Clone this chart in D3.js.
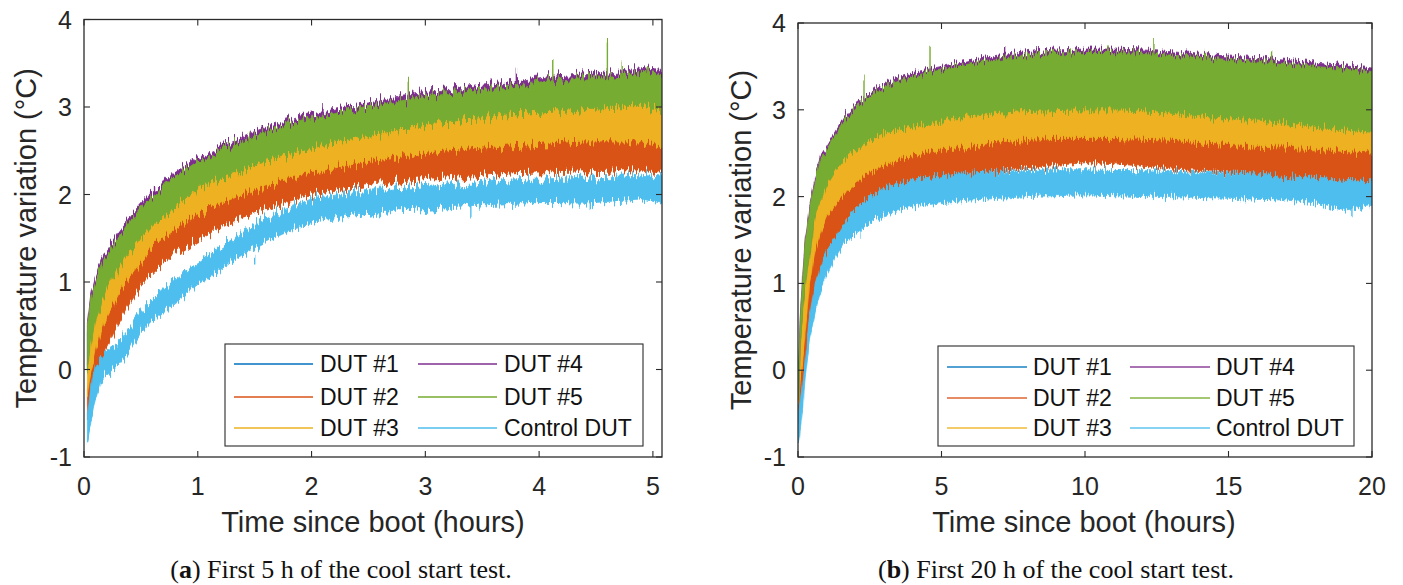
<!DOCTYPE html>
<html><head><meta charset="utf-8">
<script src="https://cdn.jsdelivr.net/npm/d3@7"></script>
<style>
html,body{margin:0;padding:0;background:#fff;}
svg{display:block;}
</style></head>
<body>
<svg id="chart" width="1403" height="585"></svg>
<script>
// ---------------- DATA ----------------
const seriesNames = ["DUT #1","DUT #2","DUT #3","DUT #4","DUT #5","Control DUT"];
const seriesColors = ["#0072BD","#D95319","#EDB120","#7E2F8E","#77AC30","#4DBEEE"];
const yTicks = [-1,0,1,2,3,4];
const xTicksA = [0,1,2,3,4,5];
const xTicksB = [0,5,10,15,20];

// Panel (a): time (h) and lower / upper envelope of each noisy trace (°C)
const timeA = [0.03,0.06,0.1,0.15,0.2,0.3,0.4,0.5,0.6,0.7,0.8,1.0,1.2,1.4,1.6,1.8,2.0,2.3,2.6,2.9,3.2,3.5,3.8,4.1,4.4,4.7,4.9,5.08];
const a_dut1_lo = [-0.02,0.28,0.53,0.73,0.9,1.13,1.33,1.5,1.63,1.75,1.86,2.03,2.16,2.26,2.36,2.44,2.51,2.6,2.68,2.75,2.81,2.86,2.9,2.93,2.96,2.98,3.0,2.96];
const a_dut1_hi = [0.42,0.72,0.92,1.12,1.24,1.42,1.6,1.77,1.89,2.0,2.12,2.3,2.42,2.54,2.64,2.72,2.79,2.87,2.94,3.02,3.07,3.12,3.17,3.22,3.25,3.28,3.32,3.3];
const a_dut2_lo = [-0.62,-0.45,-0.15,0.08,0.25,0.52,0.75,0.95,1.1,1.22,1.32,1.49,1.62,1.73,1.83,1.92,2.0,2.07,2.12,2.16,2.19,2.22,2.25,2.26,2.27,2.28,2.28,2.24];
const a_dut2_hi = [-0.2,0.05,0.28,0.5,0.68,0.93,1.13,1.3,1.46,1.58,1.68,1.86,1.98,2.08,2.18,2.26,2.33,2.41,2.48,2.54,2.58,2.61,2.64,2.66,2.68,2.68,2.68,2.63];
const a_dut3_lo = [-0.3,-0.05,0.2,0.42,0.6,0.85,1.05,1.22,1.38,1.5,1.6,1.78,1.9,2.0,2.1,2.18,2.25,2.33,2.4,2.46,2.5,2.53,2.56,2.58,2.6,2.6,2.6,2.55];
const a_dut3_hi = [0.1,0.4,0.62,0.83,1.0,1.23,1.43,1.6,1.73,1.85,1.96,2.13,2.26,2.36,2.46,2.54,2.61,2.7,2.78,2.85,2.91,2.96,3.0,3.03,3.06,3.08,3.1,3.06];
const a_dut4_lo = [0.05,0.35,0.6,0.8,0.97,1.2,1.4,1.57,1.7,1.82,1.93,2.1,2.22,2.32,2.42,2.5,2.57,2.66,2.74,2.81,2.87,2.92,2.96,2.99,3.02,3.04,3.06,3.02];
const a_dut4_hi = [0.55,0.86,1.06,1.26,1.38,1.56,1.74,1.9,2.02,2.13,2.25,2.43,2.55,2.67,2.77,2.85,2.92,3.0,3.07,3.15,3.2,3.25,3.3,3.35,3.38,3.41,3.45,3.43];
const a_dut5_lo = [0.0,0.3,0.55,0.75,0.92,1.15,1.35,1.52,1.65,1.77,1.88,2.05,2.18,2.28,2.38,2.46,2.53,2.62,2.7,2.77,2.83,2.88,2.92,2.95,2.98,3.0,3.02,2.98];
const a_dut5_hi = [0.5,0.8,1.0,1.2,1.32,1.5,1.68,1.85,1.97,2.08,2.2,2.38,2.5,2.62,2.72,2.8,2.87,2.95,3.02,3.1,3.15,3.2,3.25,3.3,3.33,3.36,3.4,3.38];
const a_ctrl_lo = [-0.82,-0.62,-0.35,-0.12,-0.04,0.05,0.22,0.42,0.55,0.66,0.76,0.96,1.14,1.32,1.46,1.58,1.68,1.74,1.79,1.83,1.86,1.88,1.9,1.91,1.9,1.93,1.95,1.9];
const a_ctrl_hi = [-0.55,-0.2,0.02,0.12,0.2,0.3,0.48,0.66,0.8,0.92,1.03,1.22,1.4,1.57,1.72,1.85,1.95,2.01,2.05,2.08,2.11,2.14,2.17,2.18,2.2,2.21,2.22,2.2];
// isolated spikes on panel (a): [series index, time, from, to]
const a_spikes = [[4,4.6,3.3,3.75],[4,4.12,3.25,3.55],[4,4.73,3.3,3.52],[4,2.85,3.05,3.3],[3,3.8,3.2,3.45],[4,4.95,3.35,3.47],
                  [3,0.62,1.9,2.12],[4,1.45,2.55,2.72],[3,2.1,2.85,3.0],[5,1.5,1.3,1.2],[5,3.4,1.9,1.75],[5,4.45,1.92,1.82]];

// Panel (b)
const timeB = [0.02,0.08,0.15,0.25,0.4,0.6,0.8,1.0,1.3,1.6,2.0,2.5,3.0,3.5,4,5,6,7,8,9,10,11,12,13,14,15,16,17,18,19,20];
const b_dut1_lo = [-0.39,0.26,0.56,0.96,1.26,1.76,1.92,2.09,2.26,2.39,2.5,2.6,2.69,2.73,2.76,2.83,2.88,2.92,2.94,2.95,2.96,2.96,2.95,2.92,2.89,2.86,2.83,2.8,2.76,2.73,2.7];
const b_dut1_hi = [-0.06,0.49,0.94,1.39,1.79,2.14,2.37,2.47,2.64,2.81,2.97,3.09,3.2,3.27,3.33,3.4,3.47,3.52,3.56,3.59,3.6,3.6,3.59,3.57,3.54,3.52,3.5,3.47,3.44,3.41,3.37];
const b_dut2_lo = [-0.6,-0.4,-0.25,0.05,0.62,0.98,1.2,1.36,1.52,1.68,1.86,2.0,2.1,2.15,2.2,2.24,2.27,2.3,2.33,2.36,2.39,2.38,2.35,2.32,2.3,2.28,2.26,2.23,2.21,2.19,2.17];
const b_dut2_hi = [-0.25,0.05,0.2,0.6,1.12,1.5,1.72,1.88,2.02,2.16,2.27,2.4,2.48,2.54,2.59,2.66,2.7,2.75,2.78,2.79,2.79,2.79,2.78,2.77,2.74,2.72,2.7,2.69,2.67,2.64,2.62];
const b_dut3_lo = [-0.4,-0.1,0.05,0.45,1.0,1.38,1.6,1.76,1.9,2.04,2.15,2.28,2.36,2.42,2.47,2.54,2.58,2.63,2.66,2.67,2.67,2.67,2.66,2.65,2.62,2.6,2.58,2.57,2.55,2.52,2.5];
const b_dut3_hi = [-0.1,0.45,0.75,1.15,1.45,1.92,2.08,2.25,2.42,2.55,2.67,2.77,2.85,2.9,2.94,3.0,3.05,3.08,3.1,3.11,3.12,3.12,3.11,3.08,3.05,3.02,2.99,2.96,2.92,2.89,2.86];
const b_dut4_lo = [-0.31,0.34,0.64,1.04,1.34,1.84,2.0,2.17,2.34,2.47,2.58,2.68,2.77,2.81,2.84,2.91,2.96,3.0,3.02,3.03,3.04,3.04,3.03,3.0,2.97,2.94,2.91,2.88,2.84,2.81,2.78];
const b_dut4_hi = [0.04,0.59,1.04,1.49,1.89,2.24,2.47,2.57,2.74,2.91,3.07,3.19,3.3,3.37,3.43,3.5,3.57,3.62,3.66,3.69,3.7,3.7,3.69,3.67,3.64,3.62,3.6,3.57,3.54,3.51,3.47];
const b_dut5_lo = [-0.35,0.3,0.6,1.0,1.3,1.8,1.96,2.13,2.3,2.43,2.54,2.64,2.73,2.77,2.8,2.87,2.92,2.96,2.98,2.99,3.0,3.0,2.99,2.96,2.93,2.9,2.87,2.84,2.8,2.77,2.74];
const b_dut5_hi = [0.0,0.55,1.0,1.45,1.85,2.2,2.43,2.53,2.7,2.87,3.03,3.15,3.26,3.33,3.39,3.46,3.53,3.58,3.62,3.65,3.66,3.66,3.65,3.63,3.6,3.58,3.56,3.53,3.5,3.47,3.43];
const b_ctrl_lo = [-0.85,-0.7,-0.5,-0.1,0.35,0.68,0.92,1.1,1.3,1.46,1.57,1.7,1.79,1.84,1.88,1.93,1.96,1.98,2.0,2.01,2.02,2.01,2.0,2.0,1.99,1.98,1.97,1.96,1.93,1.84,1.9];
const b_ctrl_hi = [-0.5,-0.35,-0.2,0.1,0.62,0.98,1.2,1.36,1.52,1.68,1.86,2.0,2.1,2.15,2.2,2.24,2.27,2.29,2.3,2.31,2.31,2.3,2.3,2.29,2.28,2.27,2.26,2.23,2.21,2.19,2.17];
const b_spikes = [[4,4.6,3.4,3.75],[4,12.4,3.6,3.78],[4,2.3,3.05,3.35],[4,9.5,3.6,3.72],[4,16.5,3.5,3.65],[3,7.2,3.55,3.7],
                  [5,2.2,1.7,1.55],[5,19.3,1.9,1.75],[4,10.8,3.6,3.72],[4,14.2,3.55,3.68]];

// ---------------- DRAWING ----------------
const svg = d3.select("#chart");
const sansFont = "'Liberation Sans', Arial, Helvetica, sans-serif";
const axisColor = "#2b2b2b";
const defs = svg.append("defs");

// visual "measurement noise" texture for the dense traces (rendering effect only, vertical jitter)
function makeNoiseFilter(id, freq, scale, seed) {
  const f = defs.append("filter").attr("id", id)
    .attr("x", "-2%").attr("y", "-10%").attr("width", "104%").attr("height", "120%");
  f.append("feTurbulence").attr("type", "fractalNoise").attr("baseFrequency", freq)
    .attr("numOctaves", 2).attr("seed", seed).attr("result", "n0");
  f.append("feColorMatrix").attr("in", "n0").attr("type", "matrix")
    .attr("values", "1 0 0 0 0  0 1 0 0 0  0 0 0 0 0.5  0 0 0 0 1").attr("result", "n");
  f.append("feDisplacementMap").attr("in", "SourceGraphic").attr("in2", "n")
    .attr("scale", scale).attr("xChannelSelector", "B").attr("yChannelSelector", "R");
}
makeNoiseFilter("noiseA", "0.5 0.03", 22, 4);
makeNoiseFilter("noiseB", "0.9 0.03", 17, 7);

function drawPanel(cfg) {
  const {left, right, top, bottom, xMax, xTicks, time, bands, spikes, legend} = cfg;
  const x = d3.scaleLinear().domain([0, xMax]).range([left, right]);
  const y = d3.scaleLinear().domain([-1, 4]).range([bottom, top]);
  const g = svg.append("g");
  const clipId = "clip" + left;
  defs.append("clipPath").attr("id", clipId).append("rect")
    .attr("x", left).attr("y", top).attr("width", right - left).attr("height", bottom - top);
  const plotOuter = g.append("g").attr("clip-path", `url(#${clipId})`);
  const plot = plotOuter.append("g").attr("filter", `url(#${cfg.filter})`);

  bands.forEach((b, i) => {
    const pts = time.map((t, k) => ({t, lo: b.lo[k], hi: b.hi[k]}));
    const area = d3.area().x(d => x(d.t)).y0(d => y(d.lo)).y1(d => y(d.hi));
    plot.append("path").datum(pts).attr("d", area)
      .attr("fill", seriesColors[i]).attr("stroke", seriesColors[i])
      .attr("stroke-width", 0.8).attr("stroke-linejoin", "round");
    spikes.filter(s => s[0] === i).forEach(s => {
      plot.append("line").attr("x1", x(s[1])).attr("x2", x(s[1]))
        .attr("y1", y(s[2])).attr("y2", y(s[3]))
        .attr("stroke", seriesColors[i]).attr("stroke-width", 1.4);
    });
  });

  // box
  g.append("rect").attr("x", left).attr("y", top).attr("width", right - left).attr("height", bottom - top)
    .attr("fill", "none").attr("stroke", axisColor).attr("stroke-width", 1.3);
  const tl = 6;
  xTicks.forEach(v => {
    g.append("line").attr("x1", x(v)).attr("x2", x(v)).attr("y1", bottom).attr("y2", bottom - tl)
      .attr("stroke", axisColor).attr("stroke-width", 1.1);
    g.append("line").attr("x1", x(v)).attr("x2", x(v)).attr("y1", top).attr("y2", top + tl)
      .attr("stroke", axisColor).attr("stroke-width", 1.1);
    g.append("text").attr("x", x(v)).attr("y", bottom + 38).attr("text-anchor", "middle")
      .attr("font-family", sansFont).attr("font-size", 25).attr("fill", "#262626").text(String(v));
  });
  yTicks.forEach(v => {
    g.append("line").attr("x1", left).attr("x2", left + tl).attr("y1", y(v)).attr("y2", y(v))
      .attr("stroke", axisColor).attr("stroke-width", 1.1);
    g.append("line").attr("x1", right).attr("x2", right - tl).attr("y1", y(v)).attr("y2", y(v))
      .attr("stroke", axisColor).attr("stroke-width", 1.1);
    g.append("text").attr("x", left - 12).attr("y", y(v)).attr("dy", "0.36em").attr("text-anchor", "end")
      .attr("font-family", sansFont).attr("font-size", 25).attr("fill", "#262626")
      .text(v < 0 ? "-" + Math.abs(v) : String(v));
  });

  g.append("text").attr("x", cfg.xLabelX).attr("y", 532).attr("text-anchor", "middle")
    .attr("font-family", sansFont).attr("font-size", 29).attr("fill", "#262626")
    .text("Time since boot (hours)");
  g.append("text").attr("transform", `translate(${cfg.yLabelX},${(top + bottom) / 2}) rotate(-90)`)
    .attr("text-anchor", "middle")
    .attr("font-family", sansFont).attr("font-size", 29).attr("fill", "#262626")
    .text("Temperature variation (°C)");

  // legend
  const L = legend;
  g.append("rect").attr("x", L.x).attr("y", L.y).attr("width", L.w).attr("height", L.h)
    .attr("fill", "#fff").attr("stroke", axisColor).attr("stroke-width", 1.1);
  const order = [[0, 0, 0], [1, 0, 1], [2, 0, 2], [3, 1, 0], [4, 1, 1], [5, 1, 2]];
  order.forEach(([si, col, row]) => {
    const ly = L.rows[row];
    const lx = L.cols[col];
    g.append("line").attr("x1", lx).attr("x2", lx + L.lineLen).attr("y1", ly).attr("y2", ly)
      .attr("stroke", seriesColors[si]).attr("stroke-width", L.lw).attr("stroke-opacity", L.op);
    g.append("text").attr("x", lx + L.lineLen + L.gap).attr("y", ly).attr("dy", "0.36em")
      .attr("font-family", sansFont).attr("font-size", 23).attr("fill", "#111")
      .text(seriesNames[si]);
  });

  const cap = g.append("text").attr("x", cfg.capX).attr("y", 578).attr("text-anchor", "middle")
    .attr("font-family", "'Liberation Serif', 'Times New Roman', serif").attr("font-size", 26).attr("fill", "#111");
  cap.append("tspan").text("(");
  cap.append("tspan").attr("font-weight", "bold").text(cfg.capLetter);
  cap.append("tspan").text(cfg.capText);
}

drawPanel({
  left: 84, right: 662, top: 19.5, bottom: 457, xMax: 5.08, xTicks: xTicksA, time: timeA, filter: "noiseA",
  bands: [
    {lo: a_dut1_lo, hi: a_dut1_hi}, {lo: a_dut2_lo, hi: a_dut2_hi}, {lo: a_dut3_lo, hi: a_dut3_hi},
    {lo: a_dut4_lo, hi: a_dut4_hi}, {lo: a_dut5_lo, hi: a_dut5_hi}, {lo: a_ctrl_lo, hi: a_ctrl_hi}],
  spikes: a_spikes,
  legend: {x: 225, y: 344, w: 418, h: 102, rows: [364, 397, 428], cols: [234, 418], lineLen: 79, gap: 7, lw: 2, op: 0.75},
  xLabelX: 373, yLabelX: 36, capX: 341, capLetter: "a", capText: ") First 5 h of the cool start test."
});

drawPanel({
  left: 798, right: 1372, top: 23, bottom: 457, xMax: 20, xTicks: xTicksB, time: timeB, filter: "noiseB",
  bands: [
    {lo: b_dut1_lo, hi: b_dut1_hi}, {lo: b_dut2_lo, hi: b_dut2_hi}, {lo: b_dut3_lo, hi: b_dut3_hi},
    {lo: b_dut4_lo, hi: b_dut4_hi}, {lo: b_dut5_lo, hi: b_dut5_hi}, {lo: b_ctrl_lo, hi: b_ctrl_hi}],
  spikes: b_spikes,
  legend: {x: 938, y: 346, w: 416, h: 100, rows: [367, 398, 428], cols: [947, 1130], lineLen: 80, gap: 6, lw: 1.5, op: 0.9},
  xLabelX: 1084, yLabelX: 751, capX: 1056, capLetter: "b", capText: ") First 20 h of the cool start test."
});
</script>
</body></html>
